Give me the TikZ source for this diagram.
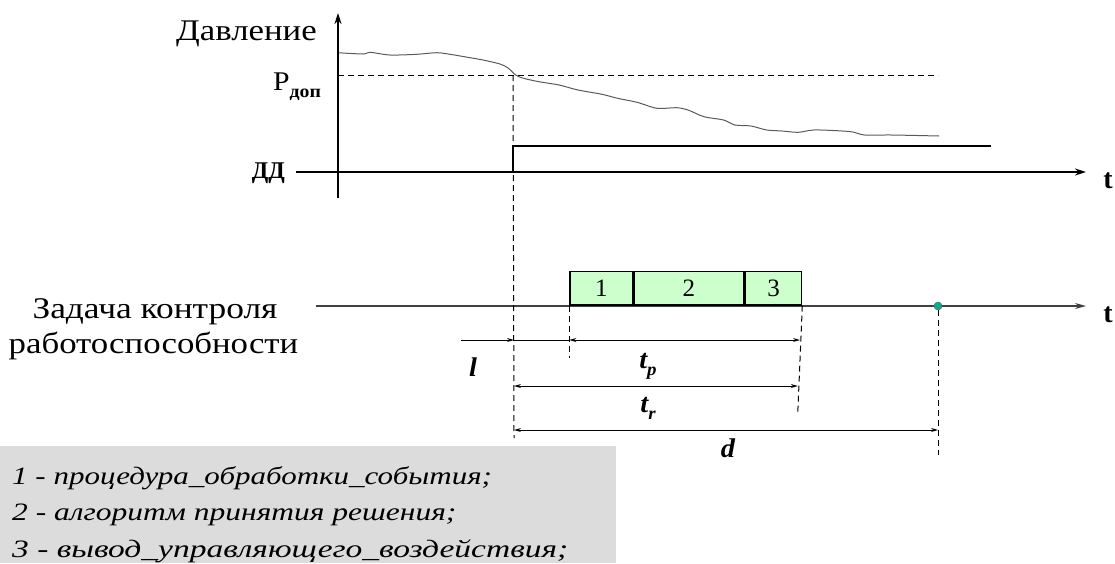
\documentclass[tikz,border=0pt]{standalone}
\usepackage{fontspec}
\setmainfont{Liberation Serif}
\usetikzlibrary{arrows.meta}
\definecolor{boxgreen}{RGB}{204,255,204}
\definecolor{legendgray}{RGB}{220,220,220}
\definecolor{dotteal}{RGB}{0,176,140}
\definecolor{curvegray}{RGB}{90,90,90}
\newcommand{\mystretch}[2]{\scalebox{#1}[1]{#2}}
\begin{document}
\begin{tikzpicture}[x=1pt,y=-1pt,
  axis/.style={line width=2pt,-{Stealth[length=11pt,width=7pt]}},
  tline/.style={line width=1.4pt,draw=black!75,-{Stealth[length=11pt,width=6pt]}},
  dimline/.style={line width=0.9pt},
  dimarr/.style={line width=0.9pt,{Stealth[length=7pt,width=4pt]}-{Stealth[length=7pt,width=4pt]}},
  guide/.style={line width=1pt,dash pattern=on 6pt off 4pt},
  lbl/.style={font=\fontsize{30}{34}\selectfont,inner sep=0pt},
  blbl/.style={font=\bfseries\itshape\fontsize{27}{30}\selectfont,inner sep=0pt},
  seg/.style={draw,line width=1.5pt,fill=boxgreen,inner sep=0pt,font=\fontsize{25}{27}\selectfont},
  legtext/.style={anchor=base west,inner sep=0pt,font=\itshape\fontsize{25}{28}\selectfont}]
\useasboundingbox (0,0) rectangle (1115,563);
% legend background
\fill[legendgray] (0,446) rectangle (616,563);
% coordinates
\coordinate (yb) at (338,198);
\coordinate (yt) at (338,13);
\coordinate (ddl) at (296,172);
\coordinate (ddr) at (1086,172);
\coordinate (ev) at (513,172);
\coordinate (evt) at (513,146);
\coordinate (stepend) at (991,146);
\coordinate (pl) at (338,75);
\coordinate (pr) at (938,75);
\coordinate (pe) at (513,75);
\coordinate (tl) at (316,306);
\coordinate (tr) at (1086,306);
% pressure curve
\draw[curvegray,line width=1pt] plot[smooth,tension=0.5] coordinates{
 (338,52.7) (363,54) (370,52.3) (390,55) (416.7,54.3) (436.7,52.7) (450,54.3)
 (470,57.7) (483,60) (500,64) (508,68) (515.7,75) (523.5,78.3) (539,81.7)
 (559,85) (578,90) (602,94.3) (617.6,98.3) (637,102.3) (657,108.3) (676.5,107.7)
 (688,110) (704,116.7) (723.5,120) (735,125) (751,126) (766.7,130) (782,131)
 (798,132.3) (813.7,130) (837,130.7) (853,132) (864.7,135) (892,135) (939,136)};
% dashed limit
\draw[guide] (pl) -- (pr);
% axes
\draw[axis] (yb) -- (yt);
\draw[axis] (ddl) -- (ddr);
% step signal
\draw[line width=2.2pt] (ev) -- (evt) -- (stepend);
% labels top
\node[lbl,anchor=base east] (davl) at (317,40) {\mystretch{1.16}{Давление}};
\node[lbl,anchor=base west,font=\fontsize{27}{30}\selectfont] (pdop) at (273,90) {\mystretch{1.1}{P\raisebox{-7pt}{\fontsize{18}{20}\selectfont\bfseries доп}}};
\node[lbl,anchor=base east,font=\bfseries\fontsize{24}{28}\selectfont] (dd) at (285,178) {ДД};
\node[lbl,anchor=base,font=\bfseries\fontsize{28}{30}\selectfont] (t1) at (1108,188) {t};
% lower timeline
\draw[tline] (tl) -- (tr);
\node[lbl,anchor=base,font=\bfseries\fontsize{28}{30}\selectfont] (t2) at (1108,322) {t};
\node[lbl,anchor=base] (task1) at (155,318) {\mystretch{1.18}{Задача контроля}};
\node[lbl,anchor=base] (task2) at (153.5,353) {\mystretch{1.16}{работоспособности}};
% boxes
\node[seg,minimum width=62.4pt,minimum height=33.4pt,anchor=south west] (b1) at (569.3,305.7) {1};
\node[seg,minimum width=110pt,minimum height=33.4pt,anchor=south west] (b2) at (b1.south east) {2};
\node[seg,minimum width=56.1pt,minimum height=33.4pt,anchor=south west] (b3) at (b2.south east) {3};
% dot
\node[circle,fill=dotteal,draw=black!60,line width=0.5pt,inner sep=0pt,minimum size=8pt] (dot) at (938,306) {};
% guide lines
\coordinate (g0b) at (514,438);
\coordinate (g1b) at (569.3,358);
\coordinate (g2b) at (797.8,412);
\coordinate (g3b) at (938,455);
\draw[guide] (pe) -- (g0b);
\draw[guide] (b1.south west) -- (g1b);
\draw[guide] (b3.south east) -- (g2b);
\draw[guide] (dot) -- (g3b);
% dimensions
\coordinate (lstart) at (461,340);
\coordinate (lend) at (514,340);
\coordinate (tpa) at (569.3,340);
\coordinate (tpb) at (800,340);
\coordinate (tra) at (514,386);
\coordinate (trb) at (797.8,386);
\coordinate (da) at (514,430);
\coordinate (db) at (938,430);
\draw[dimline,-{Stealth[length=7pt,width=4pt]}] (lstart) -- (lend);
\draw[dimline] (lend) -- (tpa);
\draw[dimarr] (tpa) -- (tpb);
\draw[dimarr] (tra) -- (trb);
\draw[dimarr] (da) -- (db);
\node[blbl,anchor=base] (l) at (473,376) {\mystretch{1.05}{l}};
\node[blbl,anchor=base] (tp) at (648,368) {\mystretch{1.05}{t\raisebox{-7pt}{\fontsize{18}{19}\selectfont p}}};
\node[blbl,anchor=base] (trl) at (648,412) {\mystretch{1.05}{t\raisebox{-7pt}{\fontsize{18}{19}\selectfont r}}};
\node[blbl,anchor=base] (dl) at (728,457) {\mystretch{1.05}{d}};
% legend
\node[legtext] (leg1) at (12,484) {\mystretch{1.24}{1 - процедура\_обработки\_события;}};
\node[legtext] (leg2) at (12,520) {\mystretch{1.26}{2 - алгоритм принятия решения;}};
\node[legtext] (leg3) at (12,557) {\mystretch{1.34}{3 - вывод\_управляющего\_воздействия;}};
\end{tikzpicture}
\end{document}
